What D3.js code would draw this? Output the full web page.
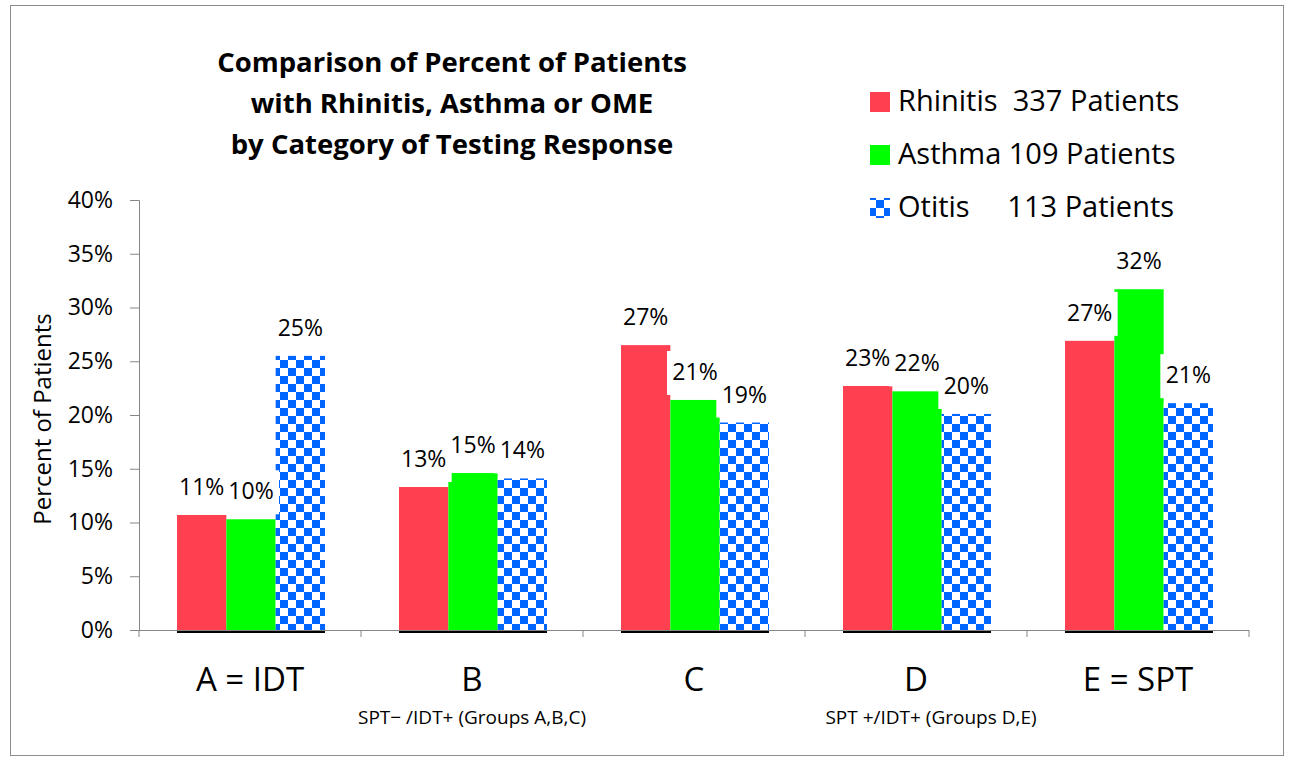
<!DOCTYPE html>
<html>
<head>
<meta charset="utf-8">
<script src="https://cdn.jsdelivr.net/npm/d3@7"></script>
<style>
body{margin:0;background:#fff;}
text{font-family:"Open Sans",Lato,sans-serif;fill:#000;}
</style>
</head>
<body>
<div id="chart"></div>
<script>
// data
var categories=['A = IDT','B','C','D','E = SPT'];
var seriesNames=['Rhinitis  337 Patients','Asthma 109 Patients','Otitis     113 Patients'];
var rhinitis=[10.7,13.3,26.5,22.7,26.9];
var asthma=[10.3,14.6,21.4,22.2,31.7];
var otitis=[25.5,14.1,19.3,20.1,21.1];
var labelsRhinitis=['11%','13%','27%','23%','27%'];
var labelsAsthma=['10%','15%','21%','22%','32%'];
var labelsOtitis=['25%','14%','19%','20%','21%'];
var yTicks=[0,5,10,15,20,25,30,35,40];
var titleLines=['Comparison of Percent of Patients','with Rhinitis, Asthma or OME','by Category of Testing Response'];
var groupNotes=['SPT\u2212 /IDT+ (Groups A,B,C)','SPT +/IDT+ (Groups D,E)'];

var W=1294,H=763;
var svg=d3.select('#chart').append('svg').attr('width',W).attr('height',H);

var defs=svg.append('defs');
function checker(id,ox,oy){
  var p=defs.append('pattern').attr('id',id).attr('patternUnits','userSpaceOnUse')
    .attr('width',16).attr('height',16).attr('x',ox).attr('y',oy);
  p.append('rect').attr('width',16).attr('height',16).attr('fill','#fff');
  p.append('rect').attr('width',8).attr('height',8).attr('fill','#0066ff');
  p.append('rect').attr('x',8).attr('y',8).attr('width',8).attr('height',8).attr('fill','#0066ff');
}
checker('checker',0,0);
checker('checkerLeg',870,92);

svg.append('rect').attr('x',10.5).attr('y',5.5).attr('width',1273).attr('height',750)
  .attr('fill','#fff').attr('stroke','#8c8c8c').attr('stroke-width',1);

var x0=d3.scaleBand().domain(categories).range([139,1249]);
var x1=d3.scaleBand().domain([0,1,2]).range([38,186]);
var y=d3.scaleLinear().domain([0,40]).range([630,200]);

var fills=['#ff4050','#00ff00','url(#checker)'];
var legFills=['#ff4050','#00ff00','url(#checkerLeg)'];
var seriesData=[rhinitis,asthma,otitis];
var seriesLabels=[labelsRhinitis,labelsAsthma,labelsOtitis];

// y axis
var yAxis=d3.axisLeft(y).tickValues(yTicks).tickFormat(function(d){return d+'%';}).tickSize(9).tickPadding(17);
var ya=svg.append('g').attr('transform','translate(139,0)').call(yAxis);
ya.select('.domain').attr('stroke','#868686');
ya.selectAll('.tick line').attr('stroke','#868686');
ya.selectAll('.tick text').style('font-size','23px').style('font-family','"Open Sans",sans-serif').attr('fill','#000');

svg.append('text').attr('transform','translate(51,419) rotate(-90)').attr('text-anchor','middle')
  .style('font-size','24px').text('Percent of Patients');

// bars
seriesData.forEach(function(vals,s){
  svg.append('g').selectAll('rect').data(vals).enter().append('rect')
    .attr('x',function(d,i){return x0(categories[i])+x1(s);})
    .attr('y',function(d){return y(d);})
    .attr('width',x1.bandwidth())
    .attr('height',function(d){return y(0)-y(d);})
    .attr('fill',fills[s]);
});

// black base line under each group
svg.append('g').selectAll('line').data(categories).enter().append('line')
  .attr('x1',function(d){return x0(d)+x1(0);})
  .attr('x2',function(d){return x0(d)+x1(2)+x1.bandwidth();})
  .attr('y1',631.5).attr('y2',631.5).attr('stroke','#000').attr('stroke-width',3);

// x axis
svg.append('line').attr('x1',139).attr('x2',1249).attr('y1',630.5).attr('y2',630.5).attr('stroke','#868686');
svg.append('g').selectAll('line').data(categories.concat(['end'])).enter().append('line')
  .attr('x1',function(d,i){return 139+i*x0.bandwidth();})
  .attr('x2',function(d,i){return 139+i*x0.bandwidth();})
  .attr('y1',630).attr('y2',637).attr('stroke','#868686');

svg.append('g').selectAll('text').data(categories).enter().append('text')
  .attr('x',function(d){return x0(d)+x0.bandwidth()/2;}).attr('y',691)
  .attr('text-anchor','middle').style('font-size','33px').text(function(d){return d;});

svg.append('text').attr('x',472).attr('y',724).attr('text-anchor','middle').style('font-size','19px').text(groupNotes[0]);
svg.append('text').attr('x',931).attr('y',724).attr('text-anchor','middle').style('font-size','19px').text(groupNotes[1]);

// data labels with white boxes
seriesData.forEach(function(vals,s){
  var g=svg.append('g');
  vals.forEach(function(d,i){
    var cx=x0(categories[i])+x1(s)+x1.bandwidth()/2;
    var cy=y(d)-27;
    g.append('rect').attr('x',cx-28).attr('y',cy-22).attr('width',56).attr('height',44).attr('fill','#fff');
  });
});
seriesData.forEach(function(vals,s){
  svg.append('g').selectAll('text').data(vals).enter().append('text')
    .attr('x',function(d,i){return x0(categories[i])+x1(s)+x1.bandwidth()/2;})
    .attr('y',function(d){return y(d)-20;})
    .attr('text-anchor','middle').style('font-size','23px')
    .text(function(d,i){return seriesLabels[s][i];});
});

// title
svg.append('g').selectAll('text').data(titleLines).enter().append('text')
  .attr('x',452).attr('y',function(d,i){return 72+i*41;})
  .attr('text-anchor','middle').style('font-size','27.5px').style('font-weight','bold')
  .text(function(d){return d;});

// legend
var leg=svg.append('g').selectAll('g').data(seriesNames).enter().append('g')
  .attr('transform',function(d,i){return 'translate(870,'+(92+i*53)+')';});
leg.append('rect').attr('width',20).attr('height',20).attr('fill',function(d,i){return legFills[i];})
  .attr('transform',function(d,i){return i==2?'translate(0,-106)':null;})
  .attr('y',function(d,i){return i==2?106:0;});
leg.append('text').attr('x',28).attr('y',19).style('font-size','29px')
  .attr('xml:space','preserve').text(function(d){return d;});
</script>
</body>
</html>
